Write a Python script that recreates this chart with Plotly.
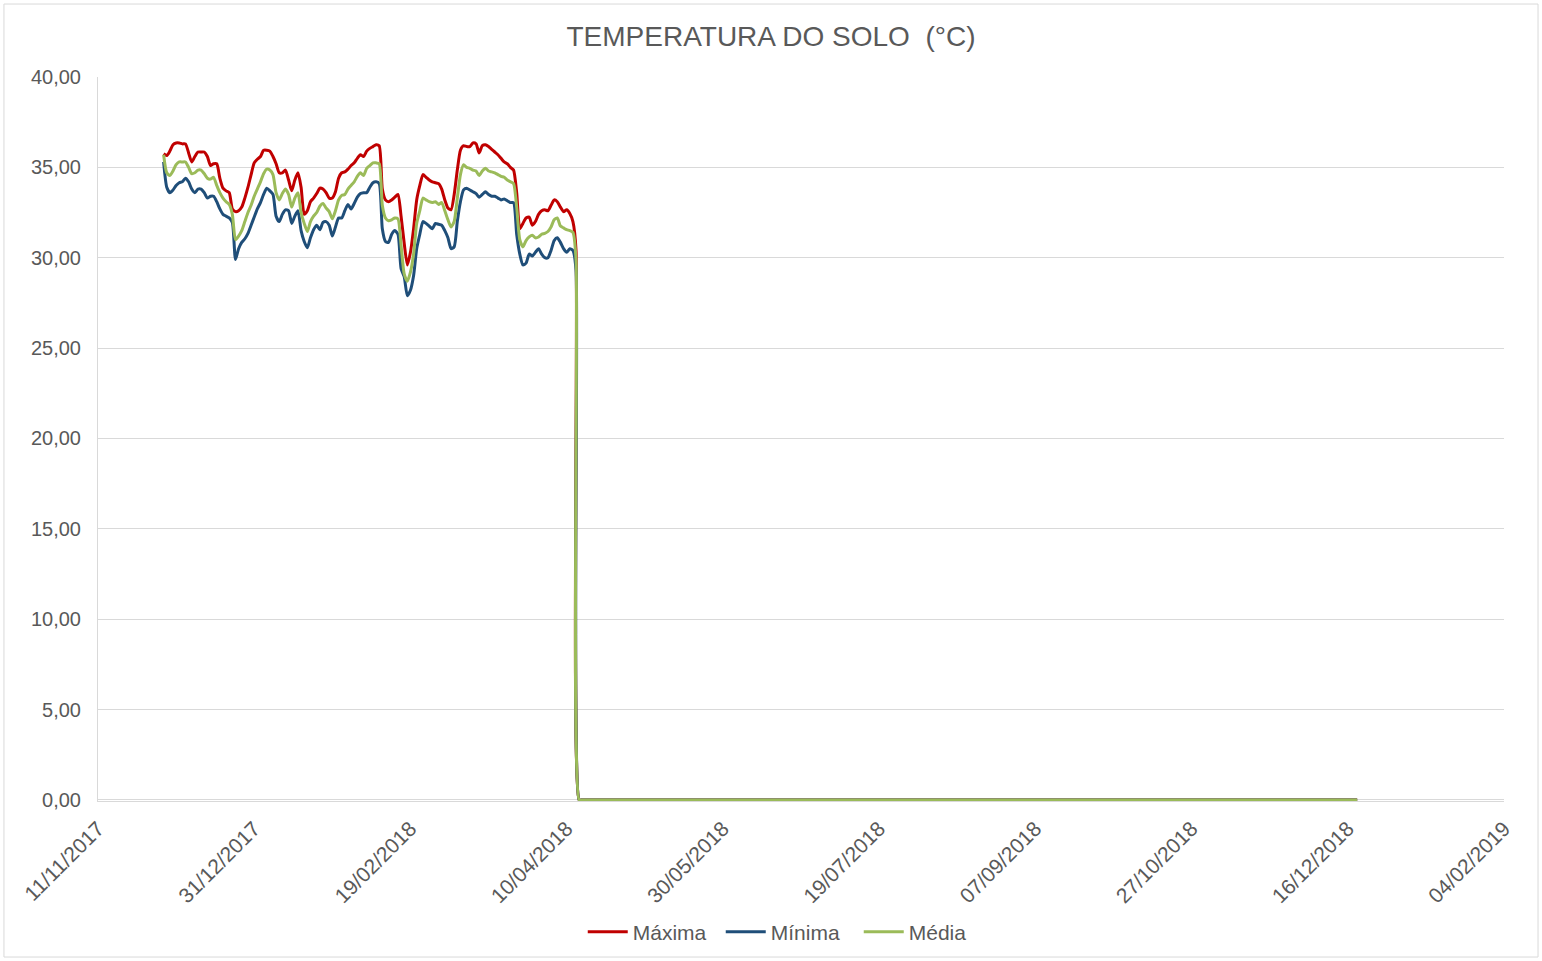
import pandas as pd
import plotly.graph_objects as go

# Daily soil temperature readings (°C), from 02/12/2017 to 13/04/2018
start_date = "2017-12-02"
maxima = [
    35.75, 35.65, 35.9, 36.25, 36.35, 36.35, 36.3, 36.3, 35.8, 35.3,
    35.6, 35.85, 35.85, 35.85, 35.6, 35.1, 35.2, 35.2, 34.4, 33.85,
    33.7, 33.6, 32.7, 32.55, 32.6, 32.8, 33.3, 33.9, 34.6, 35.25,
    35.45, 35.6, 35.95, 35.95, 35.9, 35.6, 35.2, 34.7, 34.7, 34.85,
    34.3, 33.7, 34.3, 34.7, 33.9, 32.4, 32.6, 33.1, 33.3, 33.55,
    33.85, 33.8, 33.6, 33.3, 33.3, 33.65, 34.4, 34.7, 34.75, 34.9,
    35.1, 35.25, 35.5, 35.7, 35.6, 35.9, 36.05, 36.15, 36.25, 36.2,
    33.8, 33.2, 33.1, 33.2, 33.35, 33.5, 32.3, 30.8, 29.6, 30.3,
    31.6, 33.2, 34.0, 34.6, 34.45, 34.3, 34.2, 34.15, 34.1, 33.8,
    33.2, 32.75, 32.65, 33.5, 34.85, 35.95, 36.2, 36.15, 36.15, 36.35,
    36.3, 35.8, 36.2, 36.25, 36.15, 36.0, 35.85, 35.7, 35.5, 35.3,
    35.2, 35.0, 34.85, 33.6, 31.6, 31.9, 32.2, 32.25, 31.8, 32.0,
    32.4, 32.6, 32.65, 32.6, 32.9, 33.2, 33.1, 32.8, 32.55, 32.65,
    32.45, 32.0, 30.4,
]
minima = [
    35.3, 33.9, 33.6, 33.75, 34.0, 34.15, 34.2, 34.4, 34.2, 33.8,
    33.6, 33.8, 33.8, 33.6, 33.3, 33.4, 33.4, 33.1, 32.7, 32.4,
    32.3, 32.2, 31.95, 29.9, 30.5, 30.85, 31.05, 31.35, 31.8, 32.25,
    32.7, 33.05, 33.5, 33.85, 33.7, 33.5, 32.3, 32.0, 32.4, 32.65,
    32.6, 31.9, 32.3, 32.6, 31.5, 30.9, 30.55, 31.1, 31.55, 31.8,
    31.55, 31.95, 32.0, 31.8, 31.2, 31.7, 32.2, 32.2, 32.6, 32.95,
    32.7, 33.0, 33.35, 33.55, 33.6, 33.6, 33.9, 34.15, 34.2, 34.1,
    31.6, 30.9, 30.85, 31.3, 31.5, 31.3, 29.4, 28.95, 27.9, 28.2,
    29.0, 30.5, 31.3, 32.0, 31.9, 31.75, 31.6, 31.9, 31.85, 31.8,
    31.5, 31.1, 30.5, 30.6, 32.0, 33.1, 33.75, 33.85, 33.75, 33.65,
    33.55, 33.35, 33.5, 33.65, 33.5, 33.4, 33.4, 33.3, 33.2, 33.25,
    33.15, 33.05, 33.05, 31.3, 30.2, 29.6, 29.7, 30.2, 30.1, 30.3,
    30.5, 30.2, 30.0, 30.0, 30.4, 30.95, 31.1, 30.85, 30.5, 30.3,
    30.5, 30.4, 29.3,
]
media = [
    35.7, 34.7, 34.55, 34.8, 35.15, 35.3, 35.3, 35.3, 35.0, 34.65,
    34.7, 34.85, 34.85, 34.65, 34.4, 34.35, 34.45, 34.0, 33.6, 33.3,
    33.1, 32.95, 32.4, 31.0, 31.2, 31.5, 32.0, 32.5, 32.9, 33.4,
    33.8, 34.2, 34.65, 34.9, 34.85, 34.6, 33.6, 33.2, 33.55, 33.8,
    33.5, 32.8, 33.3, 33.6, 32.5, 31.9, 31.45, 32.0, 32.3, 32.5,
    32.85, 33.0, 32.75, 32.55, 32.15, 32.6, 33.2, 33.45, 33.5, 33.8,
    34.0, 34.2, 34.5, 34.7, 34.55, 34.95, 35.1, 35.25, 35.25, 35.2,
    32.9, 32.2, 32.05, 32.1, 32.2, 32.15, 30.7, 29.1, 28.7, 29.2,
    30.2, 31.9, 32.6, 33.3, 33.2, 33.1, 33.05, 33.1, 32.95, 33.05,
    32.6, 32.1, 31.7, 32.0, 33.3, 34.6, 35.15, 35.0, 34.95, 34.85,
    34.8, 34.55, 34.8, 34.95, 34.8, 34.75, 34.7, 34.6, 34.5, 34.45,
    34.3, 34.2, 34.1, 32.8, 31.0, 30.6, 30.95, 31.15, 31.25, 31.1,
    31.15, 31.3, 31.35, 31.45, 31.7, 32.1, 32.2, 31.75, 31.65, 31.55,
    31.5, 31.4, 29.9,
]
# After 13/04/2018 the sensor reads 0,00 until 19/12/2018
zero_days = 250
zero_tail = [0.0] * zero_days

tick_dates = ["2017-11-11", "2017-12-31", "2018-02-19", "2018-04-10", "2018-05-30",
              "2018-07-19", "2018-09-07", "2018-10-27", "2018-12-16", "2019-02-04"]
tick_labels = ["11/11/2017", "31/12/2017", "19/02/2018", "10/04/2018", "30/05/2018",
               "19/07/2018", "07/09/2018", "27/10/2018", "16/12/2018", "04/02/2019"]
y_ticks = [0, 5, 10, 15, 20, 25, 30, 35, 40]

n_total = len(maxima) + zero_days
dates = pd.date_range(start_date, periods=n_total, freq="D")

series = [
    ("Máxima", maxima, "#C00000"),
    ("Mínima", minima, "#1F4E79"),
    ("Média", media, "#9BBB59"),
]

fig = go.Figure()
for name, vals, color in series:
    fig.add_trace(go.Scatter(
        x=dates, y=list(vals) + zero_tail, name=name, mode="lines",
        line=dict(color=color, width=3, shape="spline", smoothing=0.6),
    ))

font_family = "Liberation Sans, Arial, sans-serif"
fig.update_layout(
    width=1542, height=961,
    margin=dict(l=98, r=38, t=77, b=160, autoexpand=False),
    paper_bgcolor="white", plot_bgcolor="white",
    separators=",.",
    font=dict(family=font_family, color="#595959", size=20),
    title=dict(text="TEMPERATURA DO SOLO  (°C)", x=0.5, xanchor="center",
               y=0.9625, yanchor="middle",
               font=dict(size=28, color="#595959", family=font_family)),
    xaxis=dict(
        type="date",
        range=[tick_dates[0], tick_dates[-1]],
        tickmode="array", tickvals=tick_dates, ticktext=tick_labels,
        tickangle=-45, showgrid=False, zeroline=False, automargin=False,
        showline=True, linecolor="#d9d9d9", linewidth=1, layer="below traces",
        ticklabelstandoff=6,
        tickfont=dict(size=21, color="#595959"),
    ),
    yaxis=dict(
        range=[-0.06, 40], tickmode="array", tickvals=y_ticks, tickformat=".2f",
        showgrid=True, gridcolor="#d9d9d9", gridwidth=1, zeroline=False, automargin=False,
        showline=True, linecolor="#d9d9d9", linewidth=1, layer="below traces",
        ticks="", ticklen=0, ticklabelstandoff=12,
        tickfont=dict(size=20, color="#595959"),
    ),
    legend=dict(orientation="h", x=0.492, xanchor="center", y=-0.181, yanchor="middle",
                font=dict(size=21, color="#595959"), itemwidth=40,
                entrywidth=83, entrywidthmode="pixels",
                traceorder="normal", bgcolor="rgba(0,0,0,0)"),
    showlegend=True,
)
fig.add_shape(type="rect", xref="paper", yref="paper",
              x0=-0.0669, x1=1.0242, y0=-0.2155, y1=1.1008,
              line=dict(color="#d9d9d9", width=1), fillcolor="rgba(0,0,0,0)", layer="below")

fig.write_html("out.html", config={"displayModeBar": False},
               post_script="document.body.style.margin='0';")
